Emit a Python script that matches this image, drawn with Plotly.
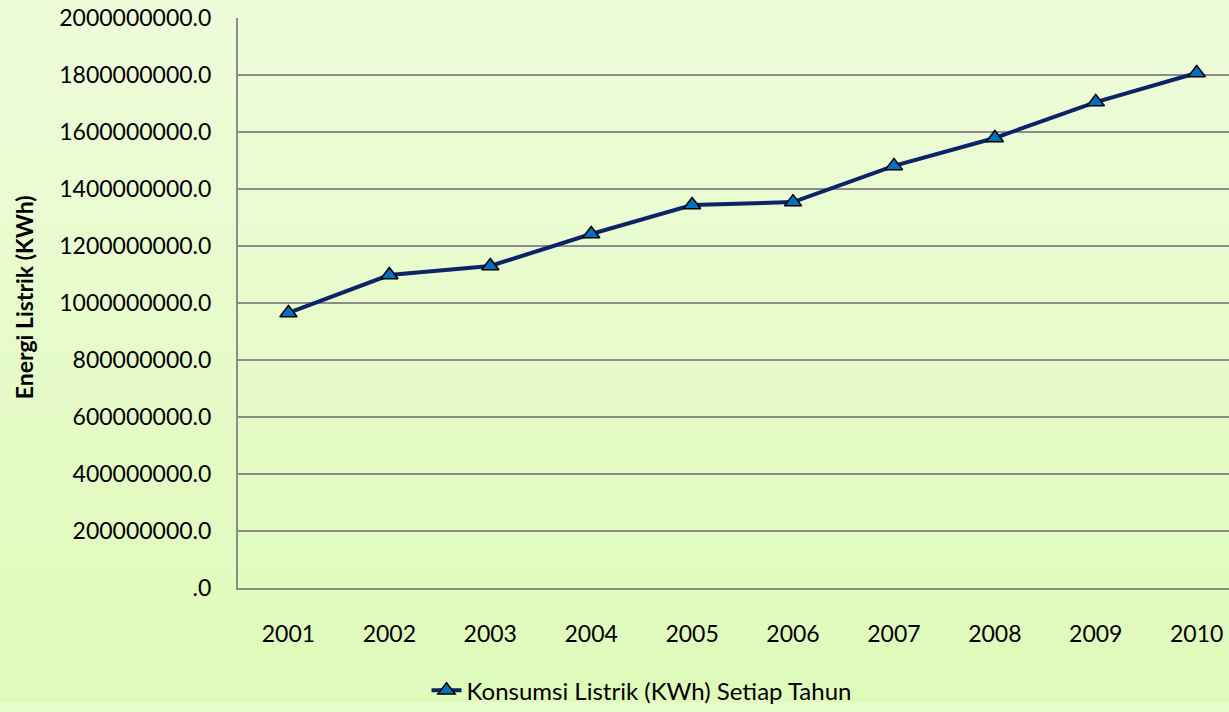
import plotly.graph_objects as go

# data
years = ["2001", "2002", "2003", "2004", "2005", "2006", "2007", "2008", "2009", "2010"]
konsumsi_kwh = [965e6, 1098e6, 1130e6, 1242e6, 1344e6, 1354e6, 1481e6, 1579e6, 1705e6, 1807e6]
y_tick_vals = [0, 2e8, 4e8, 6e8, 8e8, 1e9, 1.2e9, 1.4e9, 1.6e9, 1.8e9, 2e9]
y_tick_text = [".0", "200000000.0", "400000000.0", "600000000.0", "800000000.0",
               "1000000000.0", "1200000000.0", "1400000000.0", "1600000000.0",
               "1800000000.0", "2000000000.0"]

FONT = "Lato"
GRID = "#8c8c8c"

fig = go.Figure()
fig.add_trace(go.Scatter(
    x=years, y=konsumsi_kwh, mode="lines+markers",
    name="Konsumsi Listrik (KWh) Setiap Tahun",
    line=dict(color="#0b2467", width=4),
    marker=dict(symbol="triangle-up", size=15, color="#0070c0",
                line=dict(color="black", width=1.5)),
))

# soft green vertical gradient for the background
top = (239, 252, 220)
bot = (223, 251, 186)
n = 40
shapes = []
for i in range(n):
    t = i / (n - 1)
    c = tuple(round(top[k] + (bot[k] - top[k]) * t) for k in range(3))
    shapes.append(dict(type="rect", xref="paper", yref="paper", layer="below",
                       x0=-1, x1=2, y0=1.1 - (i + 1) * 1.3 / n, y1=1.1 - i * 1.3 / n + 0.001,
                       fillcolor="rgb(%d,%d,%d)" % c, line=dict(width=0)))

fig.update_layout(
    width=1229, height=712,
    margin=dict(l=238, r=0, t=18, b=124),
    paper_bgcolor="rgb(231,252,205)",
    plot_bgcolor="rgba(0,0,0,0)",
    font=dict(family=FONT, size=23, color="black"),
    shapes=shapes,
    showlegend=True,
    legend=dict(orientation="h", xref="container", yref="container",
                x=0.522, y=0.03, xanchor="center", yanchor="middle",
                font=dict(size=24), bgcolor="rgba(0,0,0,0)"),
    annotations=[dict(text="<b>Energi Listrik (KWh)</b>", textangle=-90,
                      xref="paper", yref="paper", x=(24 - 238) / 991, y=0.51,
                      xanchor="center", yanchor="middle", showarrow=False,
                      font=dict(size=23))],
)
fig.update_xaxes(
    range=[-0.5, 9.32], showgrid=False, showline=True, linecolor=GRID, linewidth=2,
    ticks="", ticklabelstandoff=24, tickfont=dict(size=23),
)
fig.update_yaxes(
    range=[0, 2e9], tickvals=y_tick_vals, ticktext=y_tick_text,
    showgrid=True, gridcolor=GRID, gridwidth=2, showline=True, linecolor=GRID, linewidth=2,
    zeroline=False, ticks="", ticklabelstandoff=20, tickfont=dict(size=23),
)

fig.write_html("out.html", config={"displayModeBar": False},
               post_script="document.body.style.margin='0';")
